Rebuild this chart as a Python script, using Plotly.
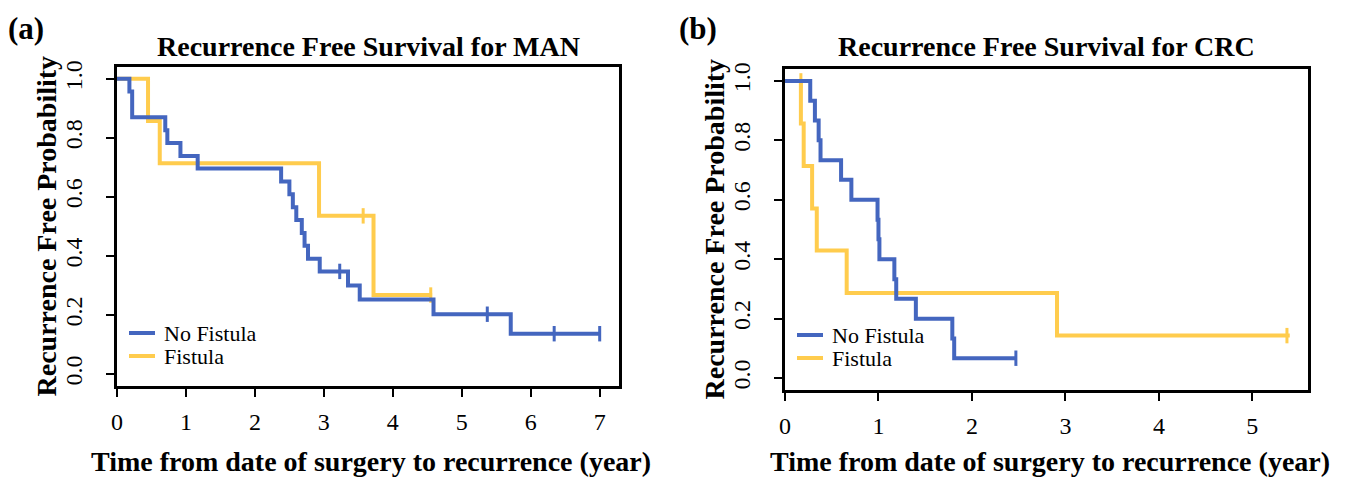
import plotly.graph_objects as go

# ---------------- data ----------------
# Panel (a): MAN
a_nofis_t = [0, 0.18, 0.22, 0.70, 0.73, 0.92, 1.17, 2.38, 2.50, 2.55, 2.60, 2.68, 2.72, 2.77, 2.94, 3.35, 3.52, 4.59, 5.71, 7.00]
a_nofis_s = [1.0, 0.957, 0.870, 0.826, 0.783, 0.739, 0.696, 0.652, 0.609, 0.565, 0.522, 0.478, 0.435, 0.391, 0.348, 0.300, 0.253, 0.203, 0.137, 0.137]
a_nofis_cens_t = [3.23, 5.37, 6.34, 7.00]
a_nofis_cens_s = [0.348, 0.203, 0.137, 0.137]

a_fis_t = [0, 0.45, 0.62, 2.93, 3.72, 4.57]
a_fis_s = [1.0, 0.857, 0.714, 0.536, 0.268, 0.268]
a_fis_cens_t = [3.57, 4.55]
a_fis_cens_s = [0.536, 0.268]

# Panel (b): CRC
b_nofis_t = [0, 0.27, 0.32, 0.36, 0.38, 0.60, 0.71, 0.99, 1.00, 1.01, 1.17, 1.19, 1.40, 1.79, 1.81, 2.47]
b_nofis_s = [1.0, 0.933, 0.867, 0.800, 0.733, 0.667, 0.600, 0.533, 0.467, 0.400, 0.333, 0.267, 0.200, 0.133, 0.067, 0.067]
b_nofis_cens_t = [2.47]
b_nofis_cens_s = [0.067]

b_fis_t = [0, 0.17, 0.20, 0.29, 0.34, 0.66, 2.91, 5.40]
b_fis_s = [1.0, 0.857, 0.714, 0.571, 0.429, 0.286, 0.143, 0.143]
b_fis_cens_t = [0.17, 5.37]
b_fis_cens_s = [1.0, 0.143]

series_names = ["No Fistula", "Fistula"]
panel_titles = ["Recurrence Free Survival for MAN", "Recurrence Free Survival for CRC"]
panel_tags = ["(a)", "(b)"]
x_title = "Time from date of surgery to recurrence (year)"
y_title = "Recurrence Free Probability"
a_xticks = [0, 1, 2, 3, 4, 5, 6, 7]
b_xticks = [0, 1, 2, 3, 4, 5]
yticks = [0.0, 0.2, 0.4, 0.6, 0.8, 1.0]

BLUE = "#4466BF"
YELLOW = "#FFCC4D"
FONT = "Liberation Serif"

# the page body has an 8px margin; size the figure so it fits the 1349x480 window
OFF = 8
W, H = 1349 - OFF, 480 - OFF


def px(X):
    return (X - OFF) / W


def py(Y):
    return 1 - (Y - OFF) / H


fig = go.Figure()


def add_curve(t, s, ct, cs, color, name, xa, ya):
    fig.add_trace(go.Scatter(
        x=t, y=s, mode="lines", line=dict(color=color, width=4, shape="hv"),
        name=name, xaxis=xa, yaxis=ya, showlegend=False))
    fig.add_trace(go.Scatter(
        x=ct, y=cs, mode="markers",
        marker=dict(symbol="line-ns", size=11, line=dict(color=color, width=3)),
        xaxis=xa, yaxis=ya, showlegend=False, hoverinfo="skip"))


# draw fistula first so no-fistula lies on top
add_curve(a_fis_t, a_fis_s, a_fis_cens_t, a_fis_cens_s, YELLOW, series_names[1], "x", "y")
add_curve(a_nofis_t, a_nofis_s, a_nofis_cens_t, a_nofis_cens_s, BLUE, series_names[0], "x", "y")
add_curve(b_fis_t, b_fis_s, b_fis_cens_t, b_fis_cens_s, YELLOW, series_names[1], "x2", "y2")
add_curve(b_nofis_t, b_nofis_s, b_nofis_cens_t, b_nofis_cens_s, BLUE, series_names[0], "x2", "y2")

# pixel geometry (window pixels) of the two plot boxes
A = dict(l=117, r=619, t=67, b=386)
B = dict(l=785, r=1308, t=69, b=390)


def dom_x(p):
    return [px(p["l"]), px(p["r"])]


def dom_y(p):
    return [py(p["b"]), py(p["t"])]


axis_common = dict(
    showline=True, mirror=True, linecolor="black", linewidth=3,
    ticks="outside", ticklen=8, tickwidth=2, tickcolor="black",
    showgrid=False, zeroline=False, automargin=False,
    tickfont=dict(family=FONT, size=24, color="black"),
)

fig.update_layout(
    width=W, height=H,
    margin=dict(l=0, r=0, t=0, b=0),
    paper_bgcolor="white", plot_bgcolor="white",
    font=dict(family=FONT, color="black"),
    showlegend=False,
    xaxis=dict(domain=dom_x(A), range=[0, 7.0 * 1.04], tickvals=a_xticks, anchor="y",
               ticklabelstandoff=4, **axis_common),
    yaxis=dict(domain=dom_y(A), range=[-0.04, 1.04], tickvals=yticks, ticktext=[f"{v:.1f}" for v in yticks],
               tickangle=-90, anchor="x", ticklabelstandoff=14, **axis_common),
    xaxis2=dict(domain=dom_x(B), range=[0, 5.38 * 1.04], tickvals=b_xticks, anchor="y2",
                ticklabelstandoff=4, **axis_common),
    yaxis2=dict(domain=dom_y(B), range=[-0.04, 1.04], tickvals=yticks, ticktext=[f"{v:.1f}" for v in yticks],
                tickangle=-90, anchor="x2", ticklabelstandoff=14, **axis_common),
)

ann = []
shapes = []
for tag, title, p, tagx, legx, legy in [
    (panel_tags[0], panel_titles[0], A, 6, 129, 333),
    (panel_tags[1], panel_titles[1], B, 677, 797, 335),
]:
    cx = (p["l"] + p["r"]) / 2
    ann.append(dict(text=f"<b>{tag}</b>", x=px(tagx), y=py(28), xref="paper", yref="paper",
                    xanchor="left", yanchor="middle", showarrow=False,
                    font=dict(family=FONT, size=31, color="black")))
    ann.append(dict(text=f"<b>{title}</b>", x=px(cx), y=py(46), xref="paper", yref="paper",
                    xanchor="center", yanchor="middle", showarrow=False,
                    font=dict(family=FONT, size=28, color="black")))
    ann.append(dict(text=f"<b>{x_title}</b>", x=px(cx + 3), y=py(461), xref="paper", yref="paper",
                    xanchor="center", yanchor="middle", showarrow=False,
                    font=dict(family=FONT, size=28, color="black")))
    ann.append(dict(text=f"<b>{y_title}</b>", x=px(p["l"] - 71), y=py((p["t"] + p["b"]) / 2),
                    xref="paper", yref="paper", xanchor="center", yanchor="middle", textangle=-90,
                    showarrow=False, font=dict(family=FONT, size=28, color="black")))
    # legend (line samples + labels)
    for i, (name, col) in enumerate(zip(series_names, [BLUE, YELLOW])):
        yy = legy + 23 * i
        shapes.append(dict(type="line", xref="paper", yref="paper",
                           x0=px(legx), x1=px(legx + 26), y0=py(yy), y1=py(yy),
                           line=dict(color=col, width=4)))
        ann.append(dict(text=name, x=px(legx + 33), y=py(yy), xref="paper", yref="paper",
                        xanchor="left", yanchor="middle", showarrow=False,
                        font=dict(family=FONT, size=22, color="black")))

fig.update_layout(annotations=ann, shapes=shapes)

fig.write_html("out.html")
